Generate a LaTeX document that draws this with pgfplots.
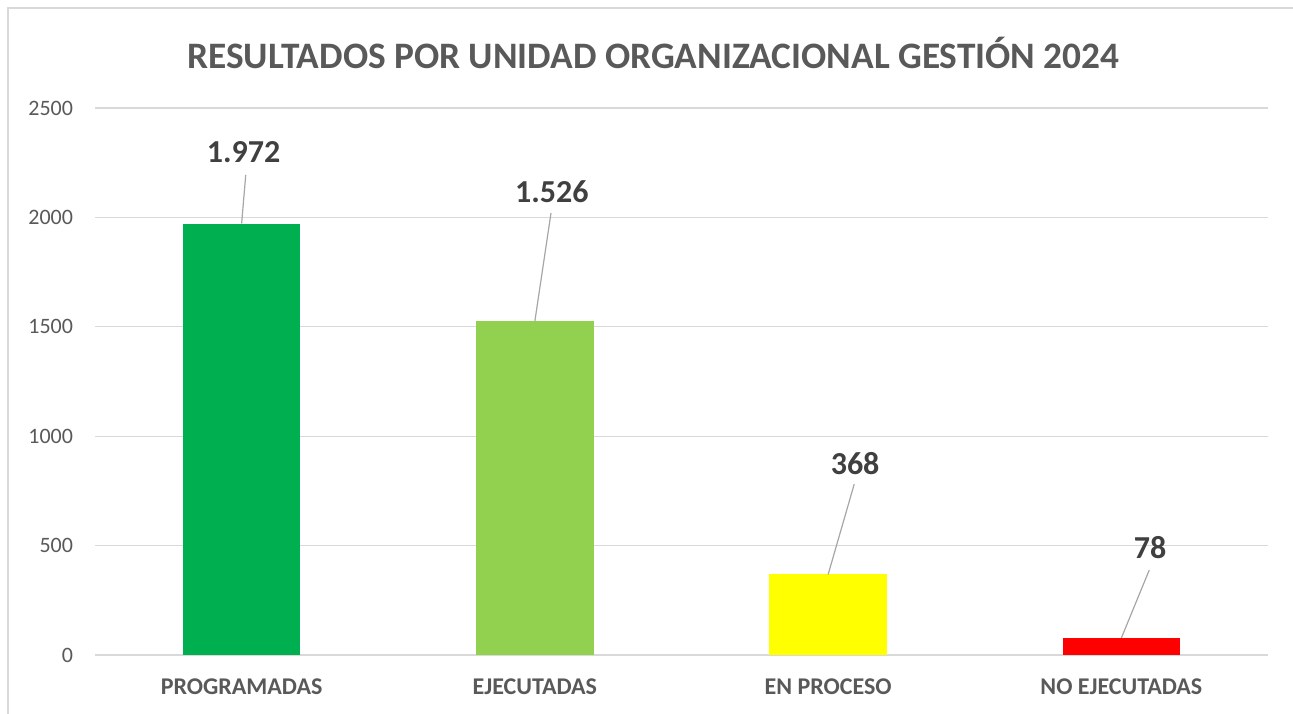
\documentclass[border=0pt]{standalone}
\usepackage{pgfplots}
\pgfplotsset{compat=1.18}
\usepackage{fontspec}
\setmainfont{Carlito}
\definecolor{cA}{HTML}{00B050}
\definecolor{cB}{HTML}{92D050}
\definecolor{cC}{HTML}{FFFF00}
\definecolor{cD}{HTML}{FF0000}
\definecolor{txt}{HTML}{595959}
\definecolor{val}{HTML}{404040}
\definecolor{gridc}{HTML}{D9D9D9}
\definecolor{lead}{HTML}{A6A6A6}
\begin{document}
\begin{tikzpicture}[x=0.75pt,y=0.75pt]
\path[use as bounding box] (-95,-59) rectangle (1198,655);
\draw[gridc, line width=1pt] (-87,-59) -- (-87,647) -- (1198,647);
\begin{axis}[
  at={(0,0)}, anchor=south west,
  scale only axis, width=879.75pt, height=410.25pt,
  xmin=-0.5, xmax=3.5, ymin=0, ymax=2500,
  ytick={0,500,...,2500},
  xtick={0,1,2,3},
  xticklabels={PROGRAMADAS,EJECUTADAS,EN PROCESO,NO EJECUTADAS},
  xticklabel style={font=\fontsize{18}{21}\selectfont\bfseries, text=txt, yshift=-14pt},
  yticklabel style={font=\fontsize{16.5}{19}\selectfont, text=txt, xshift=-13pt},
  /pgf/number format/assume math mode=true,
  /pgf/number format/1000 sep={},
  axis line style={draw=none},
  major tick length=0pt,
  xmajorgrids=false,
  ymajorgrids, grid style={draw=gridc, line width=1pt},
  ybar, bar width=0.40,
  bar shift=0pt,
  clip=false,
  title={RESULTADOS POR UNIDAD ORGANIZACIONAL GESTIÓN 2024},
  title style={font=\fontsize{28}{32}\selectfont\bfseries, text=txt, yshift=20pt, xshift=-21pt},
]
\addplot[fill=cA, draw=none] coordinates {(0,1972)};
\addplot[fill=cB, draw=none] coordinates {(1,1526)};
\addplot[fill=cC, draw=none] coordinates {(2,368)};
\addplot[fill=cD, draw=none] coordinates {(3,78)};
\draw[lead, line width=0.9pt] (axis cs:0,1972) -- (axis cs:0.014,2194);
\draw[lead, line width=0.9pt] (axis cs:1,1526) -- (axis cs:1.055,2020);
\draw[lead, line width=0.9pt] (axis cs:2,368) -- (axis cs:2.089,781);
\draw[lead, line width=0.9pt] (axis cs:3,78) -- (axis cs:3.095,388);
\node[font=\fontsize{24}{28}\selectfont\bfseries, text=val] at (axis cs:0.007,2299) {1.972};
\node[font=\fontsize{24}{28}\selectfont\bfseries, text=val] at (axis cs:1.058,2116) {1.526};
\node[font=\fontsize{24}{28}\selectfont\bfseries, text=val] at (axis cs:2.092,877) {368};
\node[font=\fontsize{24}{28}\selectfont\bfseries, text=val] at (axis cs:3.098,489) {78};
\end{axis}
\end{tikzpicture}
\end{document}
